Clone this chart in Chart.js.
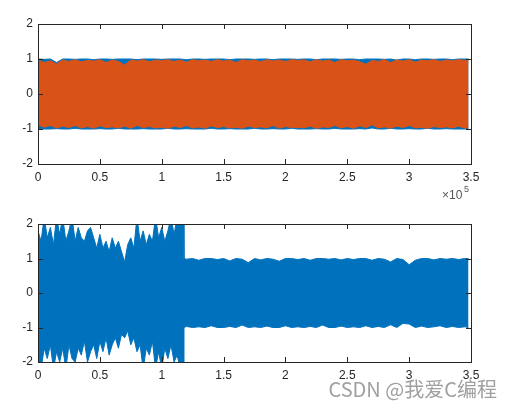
<!DOCTYPE html>
<html>
<head>
<meta charset="utf-8">
<script src="https://cdn.jsdelivr.net/npm/chart.js@4.4.1/dist/chart.umd.min.js"></script>
<style>
  html, body { margin: 0; padding: 0; background: #fff; }
  #page { position: relative; width: 506px; height: 410px; overflow: hidden; }
  .plot { position: absolute; left: 0; width: 506px; }
  #topBox { top: 0; height: 200px; }
  #bottomBox { top: 200px; height: 210px; }
  #mark {
    position: absolute; right: 9px; top: 374px;
    font: 20px "Noto Sans CJK SC", "Liberation Sans", sans-serif;
    color: #a0a0a0; white-space: nowrap;
  }
</style>
</head>
<body>
<div id="page">
  <div class="plot" id="topBox"><canvas id="topChart"></canvas></div>
  <div class="plot" id="bottomBox"><canvas id="bottomChart"></canvas></div>
  <div id="mark">CSDN @我爱C编程</div>
</div>
<script>
// tick labels (x in units of 1e5 samples)
const xTicks = [0, 0.5, 1, 1.5, 2, 2.5, 3, 3.5];
const xTickLabels = ["0", "0.5", "1", "1.5", "2", "2.5", "3", "3.5"];
const yTicks = [-2, -1, 0, 1, 2];
const yTickLabels = ["-2", "-1", "0", "1", "2"];

// top plot: signal envelopes
const xTop = [0, 0.05, 0.1, 0.15, 0.2, 0.25, 0.3, 0.35, 0.4, 0.45, 0.5, 0.55, 0.6, 0.65, 0.7, 0.75, 0.8, 0.85, 0.9, 0.95,
  1, 1.05, 1.1, 1.15, 1.2, 1.25, 1.3, 1.35, 1.4, 1.45, 1.5, 1.55, 1.6, 1.65, 1.7, 1.75, 1.8, 1.85, 1.9, 1.95,
  2, 2.05, 2.1, 2.15, 2.2, 2.25, 2.3, 2.35, 2.4, 2.45, 2.5, 2.55, 2.6, 2.65, 2.7, 2.75, 2.8, 2.85, 2.9, 2.95,
  3, 3.05, 3.1, 3.15, 3.2, 3.25, 3.3, 3.35, 3.4, 3.45, 3.48];
const blueTopHi = [1, 0.99, 1, 0.9, 1, 1, 0.99, 1, 1, 0.98, 1, 1, 0.99, 1, 1, 1, 0.98, 1, 1, 1,
  0.99, 1, 1, 1, 0.98, 1, 1, 0.99, 1, 1, 1, 0.98, 1, 1, 1, 0.99, 1, 1, 0.98, 1,
  1, 1, 0.99, 1, 1, 0.98, 1, 1, 1, 0.99, 1, 1, 0.98, 1, 1, 1, 0.99, 1, 0.97, 1,
  1, 0.98, 1, 1, 0.99, 1, 1, 0.98, 1, 1, 1];
const blueTopLo = [-0.98, -1, -1, -0.99, -1, -1, -0.98, -1, -1, -1, -0.99, -1, -1, -0.98, -1, -1, -1, -0.99, -1, -1,
  -1, -0.98, -1, -1, -0.99, -1, -1, -1, -0.98, -1, -1, -0.99, -1, -1, -1, -0.98, -1, -1, -0.99, -1,
  -1, -0.98, -1, -1, -1, -0.99, -1, -1, -0.98, -1, -1, -1, -0.99, -1, -0.97, -1, -1, -0.98, -1, -1,
  -0.99, -1, -1, -0.98, -1, -1, -0.99, -1, -1, -1, -1];
const orangeTopHi = [0.97, 0.9, 0.95, 0.86, 0.97, 0.93, 0.98, 0.92, 0.96, 0.94, 0.98, 0.9, 0.97, 0.93, 0.83, 0.97, 0.94, 0.98, 0.92, 0.97,
  0.95, 0.98, 0.93, 0.97, 0.91, 0.98, 0.95, 0.97, 0.93, 0.98, 0.94, 0.97, 0.9, 0.98, 0.95, 0.97, 0.92, 0.98, 0.94, 0.97,
  0.93, 0.98, 0.96, 0.97, 0.92, 0.98, 0.94, 0.97, 0.9, 0.98, 0.95, 0.97, 0.92, 0.85, 0.96, 0.93, 0.98, 0.9, 0.97, 0.94,
  0.98, 0.91, 0.97, 0.95, 0.98, 0.93, 0.97, 0.95, 0.98, 0.96, 0.99];
const orangeTopLo = [-0.88, -0.95, -0.9, -0.97, -0.92, -0.96, -0.9, -0.97, -0.93, -0.98, -0.91, -0.96, -0.94, -0.97, -0.92, -0.98, -0.9, -0.96, -0.93, -0.97,
  -0.95, -0.98, -0.92, -0.96, -0.9, -0.97, -0.94, -0.98, -0.91, -0.96, -0.93, -0.97, -0.95, -0.98, -0.92, -0.96, -0.94, -0.97, -0.9, -0.98,
  -0.93, -0.96, -0.95, -0.97, -0.92, -0.98, -0.94, -0.96, -0.9, -0.97, -0.93, -0.98, -0.91, -0.96, -0.88, -0.97, -0.94, -0.98, -0.92, -0.96,
  -0.9, -0.97, -0.95, -0.98, -0.93, -0.96, -0.94, -0.97, -0.92, -0.98, -0.95];

// bottom plot: loud part up to ~1.175e5, then unit amplitude
const xBottom = [0, 0.025, 0.05, 0.075, 0.1, 0.125, 0.15, 0.175, 0.2, 0.225, 0.25, 0.275, 0.3, 0.325, 0.35, 0.375,
  0.4, 0.425, 0.45, 0.475, 0.5, 0.525, 0.55, 0.575, 0.6, 0.625, 0.65, 0.675, 0.7, 0.725, 0.75, 0.775,
  0.8, 0.825, 0.85, 0.875, 0.9, 0.925, 0.95, 0.975, 1, 1.025, 1.05, 1.075, 1.1, 1.125, 1.15, 1.175,
  1.18, 1.2, 1.25, 1.3, 1.35, 1.4, 1.45, 1.5, 1.55, 1.6, 1.65, 1.7, 1.75, 1.8, 1.85, 1.9,
  1.95, 2, 2.05, 2.1, 2.15, 2.2, 2.25, 2.3, 2.35, 2.4, 2.45, 2.5, 2.55, 2.6, 2.65, 2.7,
  2.75, 2.8, 2.85, 2.9, 2.95, 3, 3.05, 3.1, 3.15, 3.2, 3.25, 3.3, 3.35, 3.4, 3.45, 3.48];
const bottomHi = [1.8, 1.5, 2.2, 1.6, 1.9, 1.4, 2.2, 1.7, 2.2, 1.5, 1.8, 2.2, 1.5, 1.9, 1.6, 1.5,
  1.8, 1.9, 1.6, 1.3, 1.7, 1.3, 1.5, 1.2, 1.6, 1.3, 1.5, 1.2, 0.9, 1.4, 1.6, 1.3,
  2.2, 1.5, 1.8, 1.4, 1.7, 1.5, 2.2, 1.6, 1.9, 1.5, 1.8, 2.2, 1.7, 2.2, 2.2, 2.2,
  1, 0.98, 1, 0.95, 1, 1, 0.97, 1, 0.93, 1, 0.98, 0.88, 1, 0.96, 1, 0.98,
  0.92, 1, 1, 0.97, 1, 0.95, 1, 1, 0.98, 1, 0.96, 1, 0.97, 1, 1, 0.95,
  1, 0.98, 0.9, 1, 0.97, 0.82, 0.95, 1, 1, 0.96, 1, 0.98, 1, 0.97, 1, 1];
const bottomLo = [-1.9, -2.2, -1.6, -1.9, -1.5, -2.2, -1.7, -2, -1.6, -2.2, -1.5, -1.9, -2, -1.6, -1.8, -1.4,
  -2, -1.7, -1.5, -1.9, -1.4, -1.7, -1.3, -1.8, -1.5, -1.3, -1.6, -1.2, -1.3, -1.1, -1.5, -1.3,
  -1.7, -1.5, -2.2, -1.6, -1.8, -1.4, -2.2, -1.7, -2.2, -1.6, -1.9, -1.5, -2, -1.8, -2.2, -2.2,
  -1, -0.97, -1, -0.98, -1, -0.95, -1, -1, -0.97, -1, -0.93, -1, -0.98, -1, -0.96, -1,
  -1, -0.95, -1, -0.98, -1, -0.97, -1, -0.93, -1, -1, -0.96, -1, -0.98, -1, -0.95, -1,
  -0.97, -1, -0.92, -1, -0.88, -0.9, -1, -0.96, -1, -0.98, -0.95, -1, -0.97, -1, -0.98, -1];

const BLUE = "#0072BD";
const ORANGE = "#D95319";
const AXIS = "#262626";
const FONT = { family: "'Liberation Sans', Arial, sans-serif", size: 12 };

function pts(xs, ys) {
  return xs.map((x, i) => ({ x: x, y: ys[i] }));
}

function band(xs, hi, lo, color, order) {
  const common = {
    borderColor: color, backgroundColor: color, borderWidth: 1,
    pointRadius: 0, tension: 0, order: order
  };
  return [
    Object.assign({ data: pts(xs, hi), fill: false }, common),
    Object.assign({ data: pts(xs, lo), fill: "-1" }, common)
  ];
}

// MATLAB-like box with inward ticks on all four sides
const boxPlugin = {
  id: "box",
  afterDraw(chart, args, opts) {
    const { ctx, chartArea: a, scales } = chart;
    const tl = 5;
    ctx.save();
    ctx.strokeStyle = AXIS;
    ctx.lineWidth = 1;
    ctx.beginPath();
    scales.x.ticks.forEach((t) => {
      const px = Math.round(scales.x.getPixelForValue(t.value)) + 0.5;
      ctx.moveTo(px, a.bottom); ctx.lineTo(px, a.bottom - tl);
      ctx.moveTo(px, a.top); ctx.lineTo(px, a.top + tl);
    });
    scales.y.ticks.forEach((t) => {
      const py = Math.round(scales.y.getPixelForValue(t.value)) + 0.5;
      ctx.moveTo(a.left, py); ctx.lineTo(a.left + tl, py);
      ctx.moveTo(a.right, py); ctx.lineTo(a.right - tl, py);
    });
    ctx.stroke();
    ctx.strokeRect(Math.round(a.left) + 0.5, Math.round(a.top) + 0.5,
      Math.round(a.right - a.left), Math.round(a.bottom - a.top));
    if (opts.exponent) {
      ctx.fillStyle = "#555";
      ctx.textBaseline = "middle";
      ctx.font = "12px 'Liberation Sans', Arial, sans-serif";
      ctx.fillText("\u00d710", a.right - 29, a.bottom + 32);
      ctx.font = "9px 'Liberation Sans', Arial, sans-serif";
      ctx.fillText("5", a.right - 7, a.bottom + 26);
    }
    ctx.restore();
  }
};

function makeOptions(xHeight, exponent) {
  return {
    responsive: true,
    maintainAspectRatio: false,
    animation: false,
    events: [],
    layout: { padding: { left: 0, top: 24, right: 35, bottom: 0 } },
    plugins: { legend: { display: false }, tooltip: { enabled: false }, box: { exponent: exponent } },
    scales: {
      x: {
        type: "linear", min: 0, max: 3.5,
        grid: { display: false, drawTicks: false, tickLength: 0 }, border: { display: false },
        afterBuildTicks: (s) => { s.ticks = xTicks.map((v) => ({ value: v })); },
        afterFit: (s) => { s.height = xHeight; },
        ticks: {
          color: AXIS, font: FONT, padding: 6, maxRotation: 0, autoSkip: false,
          callback: (v) => xTickLabels[xTicks.indexOf(v)]
        }
      },
      y: {
        min: -2, max: 2,
        grid: { display: false, drawTicks: false, tickLength: 0 }, border: { display: false },
        afterBuildTicks: (s) => { s.ticks = yTicks.map((v) => ({ value: v })); },
        afterFit: (s) => { s.width = 38; },
        ticks: {
          color: AXIS, font: FONT, padding: 5,
          callback: (v) => yTickLabels[yTicks.indexOf(v)]
        }
      }
    }
  };
}

new Chart(document.getElementById("topChart"), {
  type: "line",
  data: {
    datasets: band(xTop, blueTopHi, blueTopLo, BLUE, 1)
      .concat(band(xTop, orangeTopHi, orangeTopLo, ORANGE, 0))
  },
  options: makeOptions(36, true),
  plugins: [boxPlugin]
});

new Chart(document.getElementById("bottomChart"), {
  type: "line",
  data: { datasets: band(xBottom, bottomHi, bottomLo, BLUE, 0) },
  options: makeOptions(48, false),
  plugins: [boxPlugin]
});
</script>
</body>
</html>
